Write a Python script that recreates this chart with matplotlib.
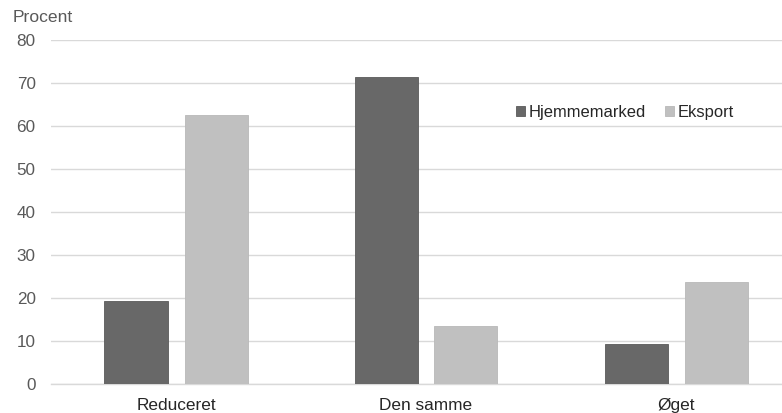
import matplotlib
matplotlib.use("Agg")
import matplotlib.pyplot as plt
import numpy as np

categories = ["Reduceret", "Den samme", "Øget"]
hjemmemarked = [19.4, 71.3, 9.3]
eksport = [62.6, 13.5, 23.8]
series_names = ["Hjemmemarked", "Eksport"]
yticks = [0, 10, 20, 30, 40, 50, 60, 70, 80]

plt.rcParams["font.family"] = ["Liberation Sans", "DejaVu Sans"]

fig = plt.figure(figsize=(7.82, 4.13), dpi=100)
ax = fig.add_axes([51 / 782, 29 / 413, 750 / 782, 344 / 413])

x = np.arange(len(categories))
w = 0.252
off = 0.16
ax.bar(x - off, hjemmemarked, w, color="#686868", edgecolor="#5a5a5a",
       linewidth=0.6, label=series_names[0], zorder=3)
ax.bar(x + off, eksport, w, color="#c0c0c0", edgecolor="#b8b8b8",
       linewidth=0.6, label=series_names[1], zorder=3)

ax.set_xlim(-0.5, 2.5)
ax.set_ylim(0, 80)
ax.set_yticks(yticks)
ax.set_yticklabels([str(t) for t in yticks], fontsize=12.3, color="#595959")
ax.set_xticks(x)
ax.set_xticklabels(categories, fontsize=12.4, color="#262626")
ax.tick_params(axis="y", length=0, pad=11)
ax.tick_params(axis="x", length=0, pad=10)
ax.yaxis.grid(True, color="#d9d9d9", linewidth=1.0, zorder=0)
ax.set_axisbelow(True)
for s in ["top", "right", "left"]:
    ax.spines[s].set_visible(False)
ax.spines["bottom"].set_color("#d9d9d9")
ax.spines["bottom"].set_linewidth(1.0)

fig.text(13 / 782, 1 - 18 / 413, "Procent", fontsize=12.6, color="#595959",
         va="center", ha="left")

leg = ax.legend(loc="upper left", bbox_to_anchor=(0.6, 0.855), ncol=2,
                frameon=False, fontsize=11.9, handlelength=0.55, handleheight=0.55,
                handletextpad=0.25, columnspacing=1.1)
for t in leg.get_texts():
    t.set_color("#262626")

fig.savefig("out.png", dpi=100)
